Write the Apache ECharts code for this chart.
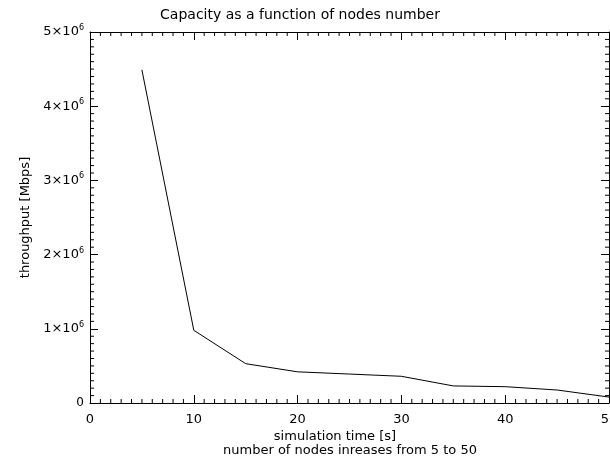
<!DOCTYPE html>
<html>
<head>
<meta charset="utf-8">
<script src="https://cdn.jsdelivr.net/npm/echarts@6/dist/echarts.min.js"></script>
<style>
  html, body { margin: 0; padding: 0; background: #fff; }
  #chart { width: 610px; height: 457px; }
</style>
</head>
<body>
<div id="chart"></div>
<script>
const nodes = [5, 10, 15, 20, 25, 30, 35, 40, 45, 50]
const throughput = [4490000, 980000, 530000, 420000, 390000, 360000, 230000, 220000, 175000, 80000]
const xTicks = [0, 10, 20, 30, 40, 50]
const yTicks = [0, 1, 2, 3, 4, 5]

const font = 'DejaVu Sans'
const ink = '#000'

const xMin = xTicks[0]
const xMax = xTicks[xTicks.length - 1]
const yMin = yTicks[0] * 1e6
const yMax = yTicks[yTicks.length - 1] * 1e6

// minor tick positions: ten per major step on both axes
const minorX = []
for (let i = xMin; i <= xMax; i++) if (i % 10 !== 0) minorX.push(i)
const minorY = []
for (let i = 0; i <= 50; i++) if (i % 10 !== 0) minorY.push(i * 1e5)

const chart = echarts.init(document.getElementById('chart'))

const yLabel = (val) => {
  const n = Math.round(val / 1e6)
  if (n === 0) return '0'
  return `{a|${n}×10}{b|6}`
}

const tickAxis = (position, min, max, interval) => ({
  type: 'value', position, min, max, interval,
  axisLine: { show: true, onZero: false, lineStyle: { color: ink, width: 1 } },
  axisTick: { show: true, inside: true, length: 8, lineStyle: { color: ink, width: 1 } },
  axisLabel: { show: false },
  splitLine: { show: false }
})

const xMajor = tickAxis('bottom', xMin, xMax, 10)
xMajor.axisLabel = { show: true, color: ink, fontSize: 13, fontFamily: font, margin: 10 }

const yMajor = tickAxis('left', yMin, yMax, 1e6)
yMajor.name = 'throughput [Mbps]'
yMajor.nameLocation = 'middle'
yMajor.nameGap = 44
yMajor.nameTextStyle = { color: ink, fontSize: 13, fontFamily: font }
yMajor.axisLabel = {
  show: true, color: ink, margin: 6, fontFamily: font,
  formatter: yLabel,
  rich: {
    a: { fontSize: 13, fontFamily: font, color: ink },
    b: { fontSize: 8, fontFamily: font, color: ink, padding: [0, 0, 8, 0] }
  }
}

// short inward ticks drawn as thin bars anchored on the frame
const tickMarks = (data, size, offset) => ({
  type: 'scatter',
  xAxisIndex: 0,
  yAxisIndex: 0,
  data,
  symbol: 'rect',
  symbolSize: size,
  symbolOffset: offset,
  itemStyle: { color: ink, opacity: 1 },
  silent: true,
  clip: false,
  z: 5,
  emphasis: { disabled: true }
})

chart.setOption({
  backgroundColor: '#fff',
  animation: false,
  textStyle: { fontFamily: font },
  grid: {
    left: 90, right: 1, top: 32, bottom: 54,
    outerBounds: { left: -40, right: -40, top: -40, bottom: -40 }
  },
  xAxis: [
    xMajor,
    tickAxis('top', xMin, xMax, 10)
  ],
  yAxis: [
    yMajor,
    tickAxis('right', yMin, yMax, 1e6)
  ],
  graphic: [
    {
      type: 'text', x: 300, y: 15,
      style: { text: 'Capacity as a function of nodes number', fontSize: 14, fontFamily: font, fill: ink, align: 'center', verticalAlign: 'middle' }
    },
    {
      type: 'text', x: 335, y: 437,
      style: { text: 'simulation time [s]', fontSize: 13, fontFamily: font, fill: ink, align: 'center', verticalAlign: 'middle' }
    },
    {
      type: 'text', x: 350, y: 451,
      style: { text: 'number of nodes inreases from 5 to 50', fontSize: 13, fontFamily: font, fill: ink, align: 'center', verticalAlign: 'middle' }
    }
  ],
  series: [
    tickMarks(minorX.map(v => [v, yMin]), [1, 4], [0, -2]),
    tickMarks(minorX.map(v => [v, yMax]), [1, 4], [0, 2]),
    tickMarks(minorY.map(v => [xMin, v]), [4, 1], [2, 0]),
    tickMarks(minorY.map(v => [xMax, v]), [4, 1], [-2, 0]),
    {
      type: 'line',
      xAxisIndex: 0,
      yAxisIndex: 0,
      data: nodes.map((n, i) => [n, throughput[i]]),
      showSymbol: false,
      lineStyle: { color: ink, width: 1 },
      clip: false
    }
  ]
})
</script>
</body>
</html>
